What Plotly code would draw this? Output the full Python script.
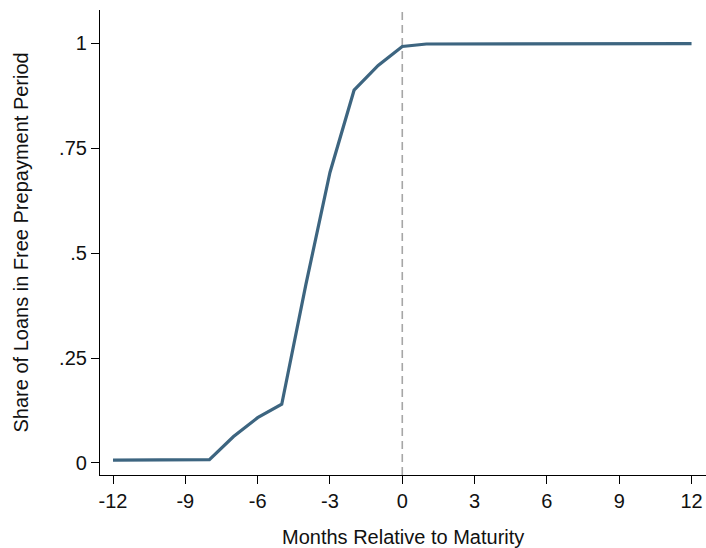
import plotly.graph_objects as go

months = list(range(-12, 13))
share = [0.007, 0.007, 0.007, 0.007, 0.008, 0.063, 0.108, 0.140, 0.425, 0.692,
         0.888, 0.947, 0.992, 0.998, 0.998, 0.998, 0.998, 0.998, 0.998, 0.999,
         0.999, 0.999, 0.999, 0.999, 0.999]
x_ticks = [-12, -9, -6, -3, 0, 3, 6, 9, 12]
y_ticks = [0, 0.25, 0.5, 0.75, 1]
y_tick_labels = ["0", ".25", ".5", ".75", "1"]

W, H = 706, 548
L, R, T, B = 100, 0, 10, 73
pw, ph = W - L - R, H - T - B

fig = go.Figure()
fig.add_trace(go.Scatter(x=months, y=share, mode="lines",
                         line=dict(color="#3d6580", width=3.2),
                         showlegend=False))
fig.add_shape(type="line", x0=0, x1=0, y0=0, y1=1, xref="x", yref="paper",
              line=dict(color="#a6a6a6", width=1.6, dash="8px,5px"), layer="below")

font = "Liberation Sans, Arial, Helvetica, sans-serif"
fig.add_annotation(text="Months Relative to Maturity", xref="paper", yref="paper",
                   x=0.5, y=(0 - 62) / ph, xanchor="center", yanchor="middle",
                   showarrow=False, font=dict(size=20, family=font, color="#111111"))
fig.add_annotation(text="Share of Loans in Free Prepayment Period", xref="paper", yref="paper",
                   x=(20 - L) / pw, y=0.5, xanchor="center", yanchor="middle", textangle=-90,
                   showarrow=False, font=dict(size=20, family=font, color="#111111"))

fig.update_layout(
    width=W, height=H,
    margin=dict(l=L, r=R, t=T, b=B),
    plot_bgcolor="white", paper_bgcolor="white",
    font=dict(family=font, size=20, color="#111111"),
    xaxis=dict(range=[-12.54, 12.6], tickvals=x_ticks,
               ticktext=[str(v) for v in x_ticks], automargin=False,
               showgrid=False, zeroline=False, showline=True,
               linecolor="black", linewidth=1.2, ticks="outside",
               ticklen=8, tickcolor="black", tickwidth=1.2,
               tickfont=dict(size=20)),
    yaxis=dict(range=[-0.0286, 1.079], tickvals=y_ticks, ticktext=y_tick_labels,
               automargin=False,
               showgrid=False, zeroline=False, showline=True,
               linecolor="black", linewidth=1.2, ticks="outside",
               ticklen=8, tickcolor="black", tickwidth=1.2,
               tickfont=dict(size=20)),
)
fig.write_html("out.html", config={"displayModeBar": False})
with open("out.html", encoding="utf-8") as f:
    html = f.read()
html = html.replace("<head>", "<head><style>html,body{margin:0;padding:0;overflow:hidden;}</style>", 1)
with open("out.html", "w", encoding="utf-8") as f:
    f.write(html)
